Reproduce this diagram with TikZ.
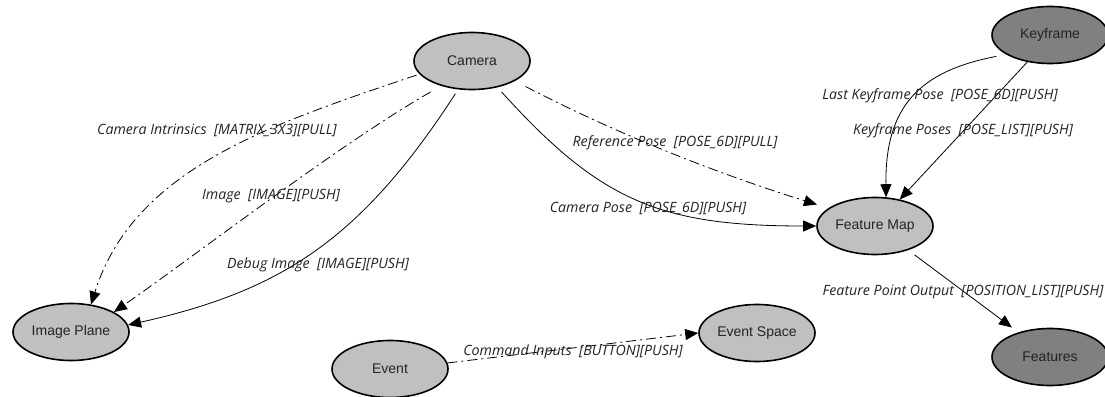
\documentclass[tikz,border=0pt]{standalone}
\usepackage{fontspec}
\setmainfont{Liberation Sans}
\newfontfamily\lblfont{Open Sans}
\usetikzlibrary{shapes.geometric,arrows.meta}
\definecolor{nodelight}{RGB}{192,192,192}
\definecolor{nodedark}{RGB}{128,128,128}
\definecolor{txt}{RGB}{35,35,35}
\begin{document}
\begin{tikzpicture}[x=1pt,y=1pt,
  comp/.style={ellipse,draw=black,line width=1.6pt,minimum width=116pt,minimum height=57pt,inner sep=0pt,font=\fontsize{14}{16}\selectfont,text=txt},
  lightnode/.style={comp,fill=nodelight},
  darknode/.style={comp,fill=nodedark},
  conn/.style={line width=0.8pt,-{Triangle[length=13pt,width=11pt]}},
  dashdot/.style={dash pattern=on 10pt off 4pt on 2pt off 4pt},
  lbl/.style={font=\lblfont\itshape\fontsize{14.2}{16}\selectfont,inner sep=0pt,text=txt}]
\useasboundingbox (0,0) rectangle (1105,396);
% nodes
\node[lightnode] (camera) at (472,335) {Camera};
\node[darknode] (keyframe) at (1050,361) {Keyframe};
\node[lightnode] (fmap) at (875,170) {Feature Map};
\node[darknode] (features) at (1050,39) {Features};
\node[lightnode] (iplane) at (71,64) {Image Plane};
\node[lightnode] (event) at (390,27) {Event};
\node[lightnode] (espace) at (757,63) {Event Space};
% connectors
\draw[conn,dashdot,shorten <=3pt] (camera.194) .. controls (272,272) and (134,228) .. (iplane.54);
\draw[conn,dashdot,shorten <=12pt] (camera.219) .. controls (341,253) and (196,141) .. (iplane.25);
\draw[conn,shorten <=5pt] (camera.244) .. controls (360,155) and (280,105) .. (iplane.7);
\draw[conn,dashdot,shorten <=12pt,shorten >=12pt] (camera.-25) .. controls (625,258) and (725,220) .. (fmap.159);
\draw[conn,shorten <=6pt] (camera.-46) .. controls (600,195) and (660,170) .. (fmap.west);
\draw[conn,shorten <=10pt] (keyframe.204) .. controls (920,325) and (885,290) .. (fmap.69);
\draw[conn] (keyframe.230) -- (fmap.47);
\draw[conn,shorten <=8pt,shorten >=8pt] (fmap.-36) -- (features.142);
\draw[conn,dashdot] (event.6) -- (espace.west);
% labels
\node[lbl] (l1) at (217,266) {Camera Intrinsics\ \ [MATRIX\_3X3][PULL]};
\node[lbl] (l2) at (271,200) {Image\ \ [IMAGE][PUSH]};
\node[lbl] (l3) at (318,131) {Debug Image\ \ [IMAGE][PUSH]};
\node[lbl] (l4) at (675,253) {Reference Pose\ \ [POSE\_6D][PULL]};
\node[lbl] (l5) at (648,188) {Camera Pose\ \ [POSE\_6D][PUSH]};
\node[lbl] (l6) at (940,300) {Last Keyframe Pose\ \ [POSE\_6D][PUSH]};
\node[lbl] (l7) at (963,265) {Keyframe Poses\ \ [POSE\_LIST][PUSH]};
\node[lbl] (l8) at (963,104) {Feature Point Output\ \ [POSITION\_LIST][PUSH]};
\node[lbl] (l9) at (573,44) {Command Inputs\ \ [BUTTON][PUSH]};
\end{tikzpicture}
\end{document}
